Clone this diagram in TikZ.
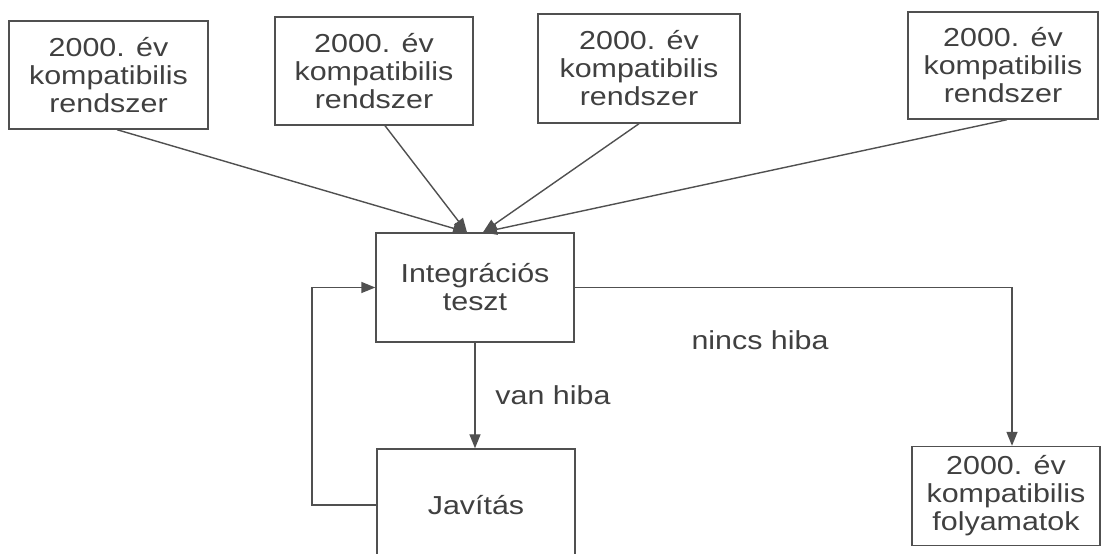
\documentclass[tikz,border=0pt]{standalone}
\usepackage{fontspec}
\setmainfont{Liberation Sans}[FakeStretch=1.17]
\usetikzlibrary{arrows.meta,calc}
\definecolor{ink}{HTML}{404040}
\definecolor{linec}{HTML}{505050}
\tikzset{
  box/.style={draw=linec, line width=1.4bp, rectangle, inner sep=0pt, align=center,
    text=ink, font=\fontsize{26bp}{28bp}\selectfont},
  conn/.style={draw=linec, line width=1.4bp, -{Triangle[length=14bp,width=11bp]}},
  lbl/.style={text=ink, font=\fontsize{26bp}{28bp}\selectfont, inner sep=0pt}
}
\begin{document}
\begin{tikzpicture}[x=1bp,y=-1bp]
\useasboundingbox (0,0) rectangle (1103,554);
\fill[white] (0,0) rectangle (1103,554);
\clip (0,0) rectangle (1103,554);
\node[box, minimum width=199bp, minimum height=108bp] (b1) at (108.5,75) {2000. év\\kompatibilis\\rendszer};
\node[box, minimum width=198bp, minimum height=108bp] (b2) at (374,71) {2000. év\\kompatibilis\\rendszer};
\node[box, minimum width=202bp, minimum height=109bp] (b3) at (639,68.5) {2000. év\\kompatibilis\\rendszer};
\node[box, minimum width=190bp, minimum height=107bp] (b4) at (1003,65.5) {2000. év\\kompatibilis\\rendszer};
\node[box, minimum width=198bp, minimum height=109bp] (integ) at (475,287.5) {Integrációs\\teszt};
\node[box, minimum width=198bp, minimum height=112bp] (jav) at (476,505) {Javítás};
\node[box, minimum width=188bp, minimum height=99bp] (fin) at (1006,496) {2000. év\\kompatibilis\\folyamatok};
\coordinate (lp) at (312,400);
\draw[conn] ($(b1.south)+(8.5,0)$) -- ($(integ.north)+(-8,0)$);
\draw[conn] ($(b2.south)+(11,0)$) -- ($(integ.north)+(-8,0)$);
\draw[conn] (b3.south) -- ($(integ.north)+(8,0)$);
\draw[conn] ($(b4.south)+(4,0)$) -- ($(integ.north)+(8,0)$);
\draw[conn] (integ.east) -| ($(fin.north)+(6,0)$);
\draw[conn] (integ.south) -- (integ.south |- jav.north);
\draw[conn] (jav.west) -| (lp) |- (integ.west);
\node[lbl] (vh) at (553,395) {van hiba};
\node[lbl] (nh) at (760,340) {nincs hiba};
\end{tikzpicture}
\end{document}
